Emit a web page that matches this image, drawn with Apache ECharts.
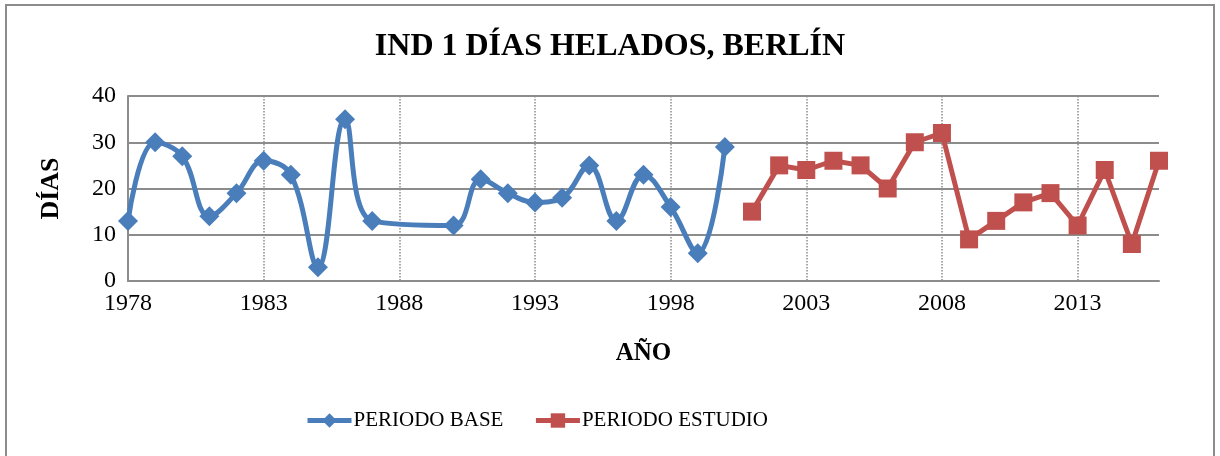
<!DOCTYPE html>
<html>
<head>
<meta charset="utf-8">
<script src="https://cdn.jsdelivr.net/npm/echarts@6/dist/echarts.min.js"></script>
<style>
    html, body { margin: 0; padding: 0; background: #fff; }
    #frame { position: absolute; left: 5px; top: 4px; width: 1206px; height: 460px; border: 2px solid #8c8c8c; border-bottom: none; }
    #chart { width: 1220px; height: 456px; position: absolute; left: 0; top: 0; }
</style>
</head>
<body>
<div id="frame"></div>
<div id="chart"></div>
<script>
    // years on the x axis, 1978 - 2016
    const years = [];
    for (let y = 1978; y <= 2016; y++) years.push(String(y));

    // PERIODO BASE (1988, 1989 missing)
    const baseValues = [13, 30, 27, 14, 19, 26, 23, 3, 35, 13, null, null, 12, 22, 19, 17, 18, 25, 13, 23, 16, 6, 29];
    // PERIODO ESTUDIO, 2001 - 2016
    const studyValues = [15, 25, 24, 26, 25, 20, 30, 32, 9, 13, 17, 19, 12, 24, 8, 26];

    const baseData = years.map((y, i) => i < baseValues.length ? baseValues[i] : null);
    const studyData = years.map((y, i) => {
        const j = i - (years.length - studyValues.length);
        return j >= 0 ? studyValues[j] : null;
    });

    const font = "'Liberation Serif', 'Times New Roman', serif";
    const chart = echarts.init(document.getElementById('chart'));

    const option = {
        animation: false,
        textStyle: { fontFamily: font },
        title: {
            text: 'IND 1 DÍAS HELADOS, BERLÍN',
            left: 'center',
            top: 26,
            textStyle: { fontFamily: font, fontSize: 32, fontWeight: 'bold', color: '#000' }
        },
        legend: {
            bottom: 20,
            left: 300,
            itemWidth: 44,
            itemHeight: 18,
            itemGap: 30,
            lineStyle: { width: 5 },
            textStyle: { fontFamily: font, fontSize: 21, color: '#000', padding: [0, 0, 0, -3] },
            data: ['PERIODO BASE', 'PERIODO ESTUDIO']
        },
        grid: { left: 128, right: 61, top: 96, bottom: 175 },
        xAxis: {
            type: 'category',
            data: years,
            boundaryGap: false,
            name: 'AÑO',
            nameLocation: 'middle',
            nameGap: 60,
            nameTextStyle: { fontFamily: font, fontSize: 25, fontWeight: 'bold', color: '#000' },
            axisLine: { lineStyle: { color: '#8c8c8c', width: 2 } },
            axisTick: { show: false },
            axisLabel: { interval: 4, fontSize: 24, color: '#000', margin: 11 },
            splitLine: { show: true, interval: 4, lineStyle: { type: 'dotted', color: '#8c8c8c', width: 1.5 } }
        },
        yAxis: {
            type: 'value',
            min: 0,
            max: 40,
            interval: 10,
            name: 'DÍAS',
            nameLocation: 'middle',
            nameGap: 64,
            nameTextStyle: { fontFamily: font, fontSize: 26, fontWeight: 'bold', color: '#000' },
            axisLine: { show: true, lineStyle: { color: '#8c8c8c', width: 2 } },
            axisTick: { show: false },
            axisLabel: { fontSize: 24, color: '#000', margin: 12 },
            splitLine: { lineStyle: { color: '#8c8c8c', width: 2 } }
        },
        series: [
            {
                name: 'PERIODO BASE',
                type: 'line',
                data: baseData,
                smooth: 0.4,
                connectNulls: true,
                showAllSymbol: true,
                symbol: 'diamond',
                symbolSize: 20,
                lineStyle: { color: '#4a7ebb', width: 5 },
                itemStyle: { color: '#4a7ebb' }
            },
            {
                name: 'PERIODO ESTUDIO',
                type: 'line',
                data: studyData,
                showAllSymbol: true,
                symbol: 'rect',
                symbolSize: 18,
                lineStyle: { color: '#c0504d', width: 5 },
                itemStyle: { color: '#c0504d' }
            }
        ]
    };
    chart.setOption(option);
</script>
</body>
</html>
